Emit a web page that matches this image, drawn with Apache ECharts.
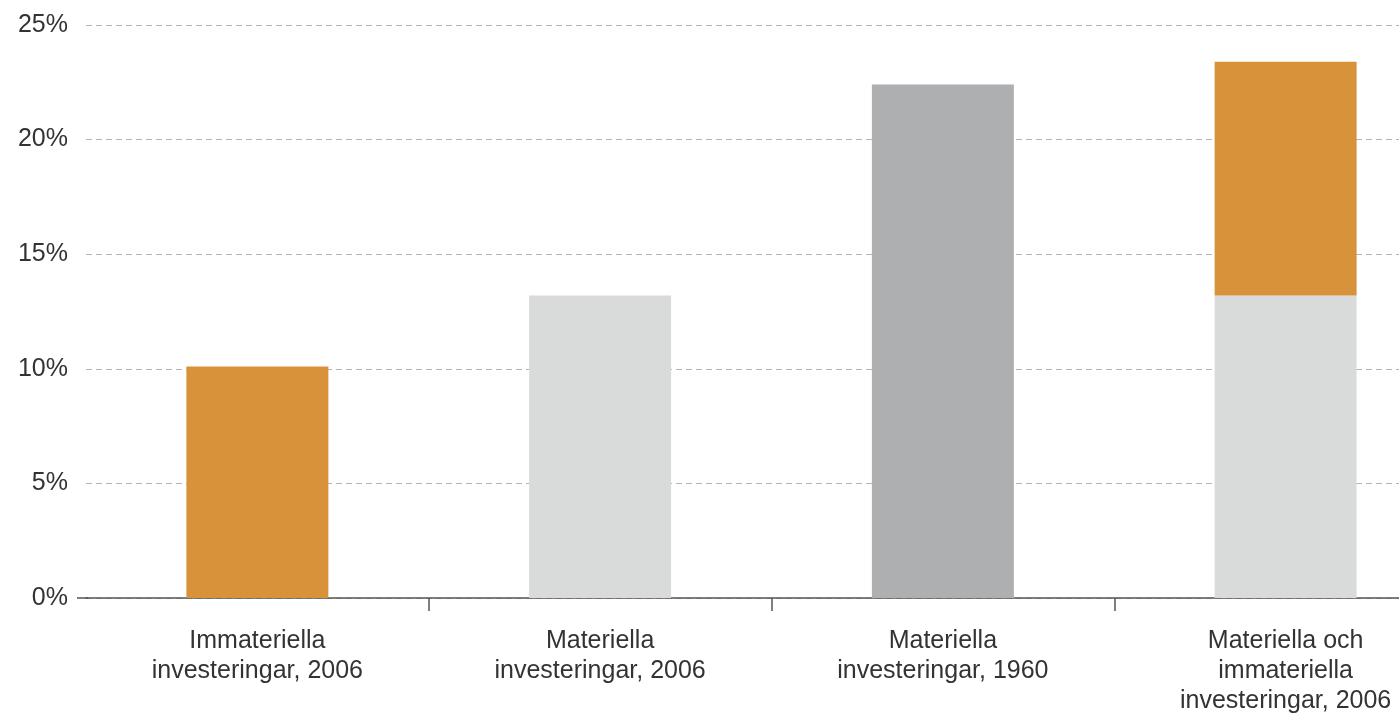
<!DOCTYPE html>
<html>
<head>
<meta charset="utf-8">
<script src="https://cdn.jsdelivr.net/npm/echarts@6/dist/echarts.min.js"></script>
<style>
  html, body { margin: 0; padding: 0; background: #fff; }
  #chart { width: 1399px; height: 716px; }
</style>
</head>
<body>
<div id="chart"></div>
<script>
// Investeringar som andel (%) – kategorier och värden
const categories = [
  'Immateriella\ninvesteringar, 2006',
  'Materiella\ninvesteringar, 2006',
  'Materiella\ninvesteringar, 1960',
  'Materiella och\nimmateriella\ninvesteringar, 2006'
];
// Nedre (första) stapeldel per kategori
const baseValues = [10.1, 13.2, 22.4, 13.2];
// Immateriella investeringar staplade ovanpå materiella (endast sista kategorin)
const topValues = ['-', '-', '-', 10.2];
// Y-axelns skala
const yTicks = [0, 5, 10, 15, 20, 25];

const ORANGE = '#D8933A';
const LIGHT = '#D9DBDA';
const DARK = '#AEAFB0';
const baseColors = [ORANGE, LIGHT, DARK, LIGHT];

const FONT = '"Liberation Sans", Arial, sans-serif';
const TEXT = '#333';

const chart = echarts.init(document.getElementById('chart'), null, { renderer: 'canvas' });

chart.setOption({
  animation: false,
  backgroundColor: '#fff',
  grid: {
    left: 86, top: 25, width: 1371, height: 573,
    containLabel: false,
    outerBoundsMode: 'none'
  },
  xAxis: {
    type: 'category',
    data: categories,
    boundaryGap: true,
    axisLine: { show: true, lineStyle: { color: '#555', width: 1.5 } },
    axisTick: {
      show: true,
      length: 13,
      interval: (i) => i > 0,
      lineStyle: { color: '#555', width: 1.5 }
    },
    axisLabel: {
      interval: 0,
      margin: 28,
      fontFamily: FONT,
      fontSize: 25,
      lineHeight: 30,
      color: TEXT,
      align: 'center'
    },
    splitLine: { show: false }
  },
  yAxis: {
    type: 'value',
    min: yTicks[0],
    max: yTicks[yTicks.length - 1],
    interval: yTicks[1] - yTicks[0],
    axisLine: { show: false },
    axisTick: { show: false },
    axisLabel: {
      margin: 18,
      fontFamily: FONT,
      fontSize: 25,
      color: TEXT,
      formatter: '{value}%'
    },
    splitLine: {
      show: true,
      lineStyle: { color: '#b4b4b4', width: 1, type: [6, 4] }
    }
  },
  graphic: [
    {
      // x-axelns linje fortsätter en bit till vänster om diagramytan
      type: 'line',
      z: 10,
      shape: { x1: 77, y1: 598, x2: 88, y2: 598 },
      style: { stroke: '#555', lineWidth: 1.5 }
    }
  ],
  series: [
    {
      type: 'bar',
      stack: 'total',
      barWidth: 142,
      data: baseValues.map((v, i) => ({ value: v, itemStyle: { color: baseColors[i] } }))
    },
    {
      type: 'bar',
      stack: 'total',
      barWidth: 142,
      itemStyle: { color: ORANGE },
      data: topValues
    }
  ]
});
</script>
</body>
</html>
